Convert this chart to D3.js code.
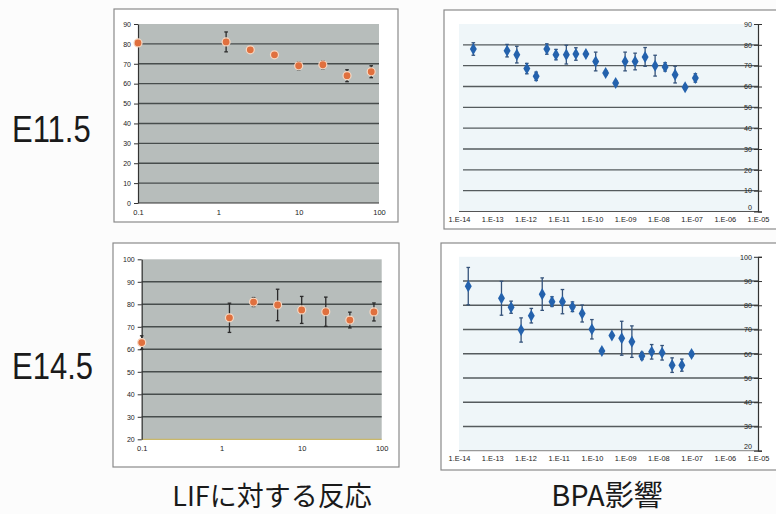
<!DOCTYPE html>
<html>
<head>
<meta charset="utf-8">
<script src="https://cdn.jsdelivr.net/npm/d3@7"></script>
<style>
  body { margin: 0; background: #fff; }
  svg { display: block; }
</style>
</head>
<body>
<svg id="chart"></svg>
<script>
// LIF dose response (x: dose, log axis)
const lifDose = [0.1, 1.25, 2.5, 5, 10, 20, 40, 80]
const lifE115 = [80.5, 81, 77, 74.5, 69, 69.5, 64, 66]
const lifE115Err = [1.5, 5, 1, 1, 2, 2, 3, 3]
const lifE145 = [63, 74, 81, 79.7, 77.5, 76.7, 73, 76.6]
const lifE145Err = [3, 6.5, 2, 7, 6, 6.5, 3.5, 4]

// BPA effect (x: concentration, log axis)
const bpaDoseE115 = [2.7e-14, 2.8e-13, 5.5e-13, 1.1e-12, 2.1e-12, 4.4e-12, 8.3e-12, 1.7e-11, 3.3e-11, 6.6e-11, 1.3e-10,
  2.6e-10, 5.2e-10, 1e-9, 2e-9, 4e-9, 8e-9, 1.6e-8, 3.2e-8, 6.4e-8, 1.3e-7]
const bpaE115 = [78, 77.2, 75.3, 68.6, 64.9, 78, 75.3, 75.3, 75.6, 75.6, 72, 66.5, 61.7, 72, 72, 74.2, 70, 69.4, 65.7, 59.6, 64.1]
const bpaE115Err = [3, 3, 4, 2.5, 2, 2.5, 2.5, 4.5, 3, 1, 4.5, 1, 1, 4.5, 4, 4.5, 5, 2, 4, 1, 2]
const bpaDoseE145 = [1.9e-14, 1.9e-13, 3.7e-13, 7.4e-13, 1.5e-12, 3.2e-12, 6.3e-12, 1.3e-11, 2.6e-11, 5.1e-11, 1e-10,
  2e-10, 4e-10, 7.9e-10, 1.6e-9, 3.2e-9, 6.3e-9, 1.3e-8, 2.6e-8, 5.1e-8, 1e-7]
const bpaE145 = [87.9, 82.9, 79.2, 69.8, 75.7, 84.6, 81.5, 81.5, 79.4, 76.6, 70.1, 61.1, 67.5, 66.4, 65, 59.1, 60.8, 60.4, 55.3, 55.3, 59.9]
const bpaE145Err = [7.7, 7, 2.5, 5, 3, 6.7, 2, 5, 2, 3.5, 4, 0.5, 0.5, 7, 6.5, 1.5, 3, 3, 3, 2.5, 1]

// tick labels
const lifTicks = [0.1, 1, 10, 100]
const lifTickLabels = ['0.1', '1', '10', '100']
const bpaTicks = [1e-14, 1e-13, 1e-12, 1e-11, 1e-10, 1e-9, 1e-8, 1e-7, 1e-6, 1e-5]
const bpaTickLabels = ['1.E-14', '1.E-13', '1.E-12', '1.E-11', '1.E-10', '1.E-09', '1.E-08', '1.E-07', '1.E-06', '1.E-05']
const yTicksE115 = [0, 10, 20, 30, 40, 50, 60, 70, 80, 90]
const yTicksE145 = [20, 30, 40, 50, 60, 70, 80, 90, 100]

const rowLabels = ['E11.5', 'E14.5']
const colLabels = ['LIFに対する反応', 'BPA影響']

const svg = d3.select('#chart').attr('width', 776).attr('height', 514)
svg.append('rect').attr('width', 776).attr('height', 514).attr('fill', '#fcfcfc')

const drawPanel = (p) => {
  const g = svg.append('g')
  const x = d3.scaleLog().domain(p.xDomain).range(p.xRange)
  const y = d3.scaleLinear().domain(p.yDomain).range(p.yRange)

  // outer frame
  g.append('rect')
    .attr('x', p.frame[0]).attr('y', p.frame[1])
    .attr('width', p.frame[2]).attr('height', p.frame[3])
    .attr('fill', '#fff').attr('stroke', '#8a8a8a').attr('stroke-width', 1.2)

  // plot area
  g.append('rect')
    .attr('x', p.xRange[0]).attr('y', p.yRange[1])
    .attr('width', p.xRange[1] - p.xRange[0]).attr('height', p.yRange[0] - p.yRange[1])
    .attr('fill', p.plotFill)

  // gridlines
  const inner = p.yTicks.filter((t) => t !== p.yDomain[0] && t !== p.yDomain[1])
  g.append('g')
    .selectAll('line')
    .data(inner)
    .join('line')
    .attr('x1', p.xRange[0] + p.gridInset).attr('x2', p.xRange[1])
    .attr('y1', (d) => y(d)).attr('y2', (d) => y(d))
    .attr('stroke', p.gridColor).attr('stroke-width', 1.4)

  // bottom line
  g.append('line')
    .attr('x1', p.xRange[0]).attr('x2', p.xRange[1])
    .attr('y1', p.yRange[0]).attr('y2', p.yRange[0])
    .attr('stroke', p.baseColor).attr('stroke-width', 1.2)

  // y axis
  const yAxis = p.yRight
    ? d3.axisRight(y).tickValues(p.yTicks).tickSize(4)
    : d3.axisLeft(y).tickValues(p.yTicks).tickSize(0)
  const ya = g.append('g')
    .attr('transform', `translate(${p.yRight ? p.xRange[1] : p.xRange[0]},0)`)
    .call(yAxis)
  ya.select('.domain').attr('stroke', '#333').attr('stroke-width', 1.2)
  ya.selectAll('.tick line').attr('stroke', '#333').attr('x1', -4)
  ya.selectAll('.tick text')
    .attr('x', p.yRight ? -6 : -7)
    .attr('dy', (d) => (p.yRight && d === p.yDomain[0] ? '-0.25em' : '0.32em'))
    .attr('text-anchor', 'end')
    .attr('font-family', 'Liberation Sans, Arial, sans-serif')
    .attr('font-size', p.yFont).attr('fill', '#222')

  // x axis
  const xa = g.append('g')
    .attr('transform', `translate(0,${p.yRange[0]})`)
    .call(d3.axisBottom(x).tickValues(p.xTicks).tickFormat((d, i) => p.xTickLabels[i]).tickSize(0))
  xa.select('.domain').remove()
  xa.selectAll('.tick text')
    .attr('dy', p.xLabelDy)
    .attr('font-family', 'Liberation Sans, Arial, sans-serif')
    .attr('font-size', p.xFont).attr('fill', '#222')

  // error bars
  const pts = p.dose.map((d, i) => ({ d, v: p.values[i], e: p.errors[i] }))
  const eb = g.append('g').attr('stroke', p.errColor).attr('stroke-width', 1.3)
  eb.selectAll('.stem').data(pts).join('line')
    .attr('x1', (d) => x(d.d)).attr('x2', (d) => x(d.d))
    .attr('y1', (d) => y(d.v - d.e)).attr('y2', (d) => y(d.v + d.e))
  eb.selectAll('.capT').data(pts).join('line')
    .attr('x1', (d) => x(d.d) - 1.8).attr('x2', (d) => x(d.d) + 1.8)
    .attr('y1', (d) => y(d.v + d.e)).attr('y2', (d) => y(d.v + d.e))
  eb.selectAll('.capB').data(pts).join('line')
    .attr('x1', (d) => x(d.d) - 1.8).attr('x2', (d) => x(d.d) + 1.8)
    .attr('y1', (d) => y(d.v - d.e)).attr('y2', (d) => y(d.v - d.e))

  // markers
  if (p.marker === 'circle') {
    g.append('g').selectAll('circle').data(pts).join('circle')
      .attr('cx', (d) => x(d.d)).attr('cy', (d) => y(d.v)).attr('r', 4)
      .attr('fill', p.markerColor).attr('stroke', '#f6d9c4').attr('stroke-width', 1.2)
  } else {
    g.append('g').selectAll('path').data(pts).join('path')
      .attr('d', d3.symbol(d3.symbolDiamond, 42))
      .attr('transform', (d) => `translate(${x(d.d)},${y(d.v)})`)
      .attr('fill', p.markerColor)
  }
}

const leftCommon = {
  xDomain: [0.1, 100], xTicks: lifTicks, xTickLabels: lifTickLabels,
  plotFill: '#b7bdbb', gridColor: '#474d4c', gridInset: 0, errColor: '#2b2b2b',
  marker: 'circle', markerColor: '#e0703e', yRight: false, xLabelDy: '1.2em', xFont: 7.5, yFont: 7
}
const rightCommon = {
  xDomain: [1e-14, 1e-5], xRange: [459, 758], xTicks: bpaTicks, xTickLabels: bpaTickLabels,
  plotFill: '#eff6f9', gridColor: '#555b5e', gridInset: 4, errColor: '#34527a',
  marker: 'diamond', markerColor: '#2462ad', yRight: true, xLabelDy: '1em', xFont: 7.4, yFont: 7.2
}

drawPanel({ ...leftCommon, frame: [114, 9, 284, 213], xRange: [138, 379], yDomain: [0, 90], yRange: [203, 24],
  yTicks: yTicksE115, baseColor: '#333', dose: lifDose, values: lifE115, errors: lifE115Err })
drawPanel({ ...leftCommon, frame: [113, 243, 286, 224], xRange: [141.7, 381.7], yDomain: [20, 100], yRange: [439.3, 259.3],
  yTicks: yTicksE145, baseColor: '#c9b86a', dose: lifDose, values: lifE145, errors: lifE145Err })
drawPanel({ ...rightCommon, frame: [444, 10, 340, 219], yDomain: [0, 90], yRange: [211.5, 24],
  yTicks: yTicksE115, baseColor: '#555', dose: bpaDoseE115, values: bpaE115, errors: bpaE115Err })
drawPanel({ ...rightCommon, frame: [441, 243, 340, 227], yDomain: [20, 100], yRange: [450.7, 256.8],
  yTicks: yTicksE145, baseColor: '#999', dose: bpaDoseE145, values: bpaE145, errors: bpaE145Err })

// row labels
svg.selectAll('.row').data(rowLabels).join('text')
  .attr('transform', (d, i) => `translate(12,${[142, 379][i]}) scale(1,1.22)`)
  .attr('font-family', 'Liberation Sans, Arial, sans-serif')
  .attr('font-size', 31).attr('fill', '#1a1a1a')
  .text((d) => d)

// column labels
svg.selectAll('.col').data(colLabels).join('text')
  .attr('x', (d, i) => [272, 607][i]).attr('y', 506)
  .attr('text-anchor', 'middle')
  .attr('font-family', 'Noto Sans CJK JP, sans-serif')
  .attr('font-size', (d, i) => [27, 29][i]).attr('fill', '#1a1a1a')
  .text((d) => d)
</script>
</body>
</html>
